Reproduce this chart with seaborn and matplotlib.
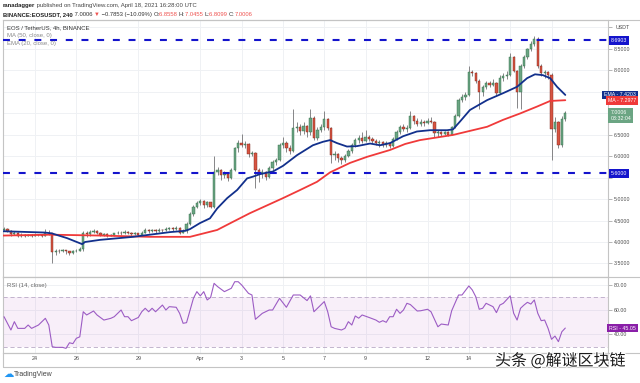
import matplotlib
matplotlib.use("Agg")
import matplotlib.pyplot as plt
import matplotlib.patheffects as pe
from matplotlib.lines import Line2D
import numpy as np
import pandas as pd
import seaborn as sns

# --- data: EOS/USDT 4h candles, index 0 = Mar 22 12:00 UTC ---
first_open = 4.28
closes = [4.30, 4.26, 4.18, 4.22, 4.14, 4.17, 4.15, 4.16, 4.14, 4.17,
          4.16, 4.15, 4.22, 4.20, 3.76, 3.80, 3.79, 3.81, 3.78, 3.74,
          3.78, 3.80, 3.84, 4.22, 4.18, 4.24, 4.25, 4.21, 4.17, 4.18,
          4.15, 4.16, 4.20, 4.22, 4.20, 4.24, 4.21, 4.18, 4.20, 4.17,
          4.22, 4.28, 4.26, 4.28, 4.25, 4.29, 4.27, 4.30, 4.32, 4.30,
          4.33, 4.22, 4.25, 4.42, 4.66, 4.82, 4.90, 4.95, 4.86, 4.92,
          4.82, 5.63, 5.68, 5.55, 5.58, 5.50, 5.68, 6.18, 6.30, 6.25,
          6.27, 6.05, 6.07, 5.68, 5.58, 5.62, 5.52, 5.72, 5.85, 5.90,
          6.25, 6.30, 6.18, 6.12, 6.66, 6.68, 6.58, 6.70, 6.55, 6.88,
          6.42, 6.60, 6.68, 6.85, 6.66, 6.02, 6.05, 5.95, 5.90, 6.00,
          6.12, 6.25, 6.38, 6.42, 6.35, 6.45, 6.40, 6.36, 6.30, 6.33,
          6.26, 6.30, 6.24, 6.40, 6.55, 6.68, 6.62, 6.65, 6.92, 6.82,
          6.75, 6.80, 6.76, 6.82, 6.80, 6.53, 6.55, 6.52, 6.55, 6.50,
          6.67, 6.93, 7.30, 7.38, 7.42, 7.95, 7.92, 7.75, 7.48, 7.60,
          7.70, 7.66, 7.70, 7.47, 7.82, 7.85, 7.88, 8.30, 7.98, 7.49,
          8.10, 8.30, 8.48, 8.60, 8.72, 8.10, 7.92, 7.95, 7.88, 6.62,
          6.78, 6.25, 6.8558, 7.0006]
highs = [4.34, 4.32, 4.28, 4.26, 4.24, 4.20, 4.19, 4.19, 4.18, 4.20,
         4.19, 4.18, 4.30, 4.28, 4.22, 3.84, 3.83, 3.84, 3.82, 3.80,
         3.81, 3.84, 3.88, 4.26, 4.25, 4.28, 4.30, 4.27, 4.23, 4.21,
         4.20, 4.19, 4.22, 4.25, 4.26, 4.28, 4.26, 4.23, 4.23, 4.22,
         4.25, 4.32, 4.30, 4.31, 4.30, 4.33, 4.31, 4.34, 4.36, 4.35,
         4.38, 4.34, 4.30, 4.47, 4.70, 4.87, 4.95, 5.00, 4.97, 4.96,
         4.94, 6.00, 5.75, 5.70, 5.65, 5.62, 5.72, 6.22, 6.38, 6.52,
         6.35, 6.30, 6.12, 6.10, 5.72, 5.70, 5.66, 5.76, 5.90, 5.95,
         6.30, 6.45, 6.34, 6.26, 7.10, 6.78, 6.75, 6.80, 6.72, 7.10,
         6.92, 6.68, 6.75, 7.05, 6.88, 6.68, 6.12, 6.08, 6.00, 6.05,
         6.16, 6.30, 6.42, 6.48, 6.55, 6.60, 6.50, 6.44, 6.40, 6.38,
         6.36, 6.35, 6.33, 6.45, 6.60, 6.72, 6.75, 6.72, 7.05, 6.95,
         6.88, 6.86, 6.84, 6.88, 6.90, 6.82, 6.60, 6.58, 6.58, 6.57,
         6.70, 6.98, 7.35, 7.45, 7.50, 8.10, 8.00, 7.95, 7.78, 7.65,
         7.75, 7.75, 7.78, 7.72, 7.88, 7.92, 7.98, 8.40, 8.32, 8.00,
         8.15, 8.35, 8.52, 8.68, 8.80, 8.76, 8.15, 8.00, 7.98, 7.92,
         6.90, 6.82, 6.92, 7.0455]
lows = [4.25, 4.24, 4.15, 4.16, 4.12, 4.12, 4.12, 4.13, 4.12, 4.13,
        4.13, 4.12, 4.14, 4.16, 3.52, 3.70, 3.74, 3.77, 3.72, 3.70,
        3.72, 3.76, 3.78, 3.80, 4.12, 4.15, 4.20, 4.18, 4.14, 4.14,
        4.12, 4.13, 4.14, 4.18, 4.17, 4.18, 4.18, 4.15, 4.16, 4.15,
        4.16, 4.21, 4.22, 4.24, 4.22, 4.24, 4.24, 4.25, 4.27, 4.26,
        4.28, 4.18, 4.20, 4.22, 4.40, 4.60, 4.78, 4.85, 4.80, 4.82,
        4.79, 4.80, 5.55, 5.45, 5.48, 5.42, 5.46, 5.66, 6.10, 6.20,
        6.18, 5.98, 6.00, 5.25, 5.40, 5.50, 5.45, 5.50, 5.68, 5.78,
        5.88, 6.18, 6.10, 6.05, 6.10, 6.55, 6.50, 6.52, 6.45, 6.50,
        6.38, 6.38, 6.55, 6.60, 6.60, 5.83, 5.90, 5.85, 5.82, 5.86,
        5.98, 6.08, 6.22, 6.30, 6.30, 6.33, 6.34, 6.30, 6.25, 6.22,
        6.20, 6.20, 6.18, 6.22, 6.38, 6.52, 6.58, 6.56, 6.62, 6.75,
        6.70, 6.70, 6.70, 6.74, 6.76, 6.45, 6.45, 6.46, 6.48, 6.46,
        6.48, 6.65, 6.90, 7.25, 7.30, 7.40, 7.85, 7.70, 7.10, 7.40,
        7.55, 7.60, 7.62, 7.40, 7.45, 7.75, 7.80, 7.85, 7.95, 7.12,
        7.10, 8.05, 8.25, 8.45, 8.55, 8.05, 7.85, 7.82, 7.80, 5.90,
        6.55, 6.18, 6.20, 6.8099]

# moving averages (candle index, price)
ma_idx = [-0.3, 13.4, 27.9, 42.4, 54.0, 61.9, 66.5, 71.4, 81.0, 86.0, 90.9,
          94.7, 100.5, 105.4, 112.1, 116.5, 120.8, 130.4, 140.3, 144.9, 149.9,
          154.8, 158.6, 163]
ma_val = [4.15, 4.17, 4.15, 4.12, 4.12, 4.28, 4.47, 4.67, 5.02, 5.21, 5.40,
          5.62, 5.84, 5.98, 6.14, 6.28, 6.37, 6.49, 6.68, 6.84, 6.99,
          7.15, 7.28, 7.2977]
ema_idx = [-0.3, 11.9, 13.9, 18.3, 22.7, 23.5, 27.9, 37.5, 48.2, 52.6, 54.0,
           56.9, 59.8, 61.9, 64.8, 67.7, 70.6, 72.3, 74.4, 78.1, 81.0, 85.1,
           89.7, 92.6, 94.7, 96.7, 99.6, 102.5, 106.3, 109.2, 112.1, 115.9,
           119.9, 123.7, 128.7, 130.4, 132.4, 135.3, 140.3, 144.9, 149.0,
           151.9, 154.2, 156.5, 158.6, 160.6, 163]
ema_val = [4.25, 4.22, 4.20, 4.09, 3.95, 4.00, 4.05, 4.12, 4.23, 4.26, 4.30,
           4.44, 4.55, 4.78, 5.02, 5.21, 5.48, 5.52, 5.58, 5.64, 5.77, 6.02,
           6.25, 6.33, 6.37, 6.30, 6.22, 6.23, 6.29, 6.25, 6.30, 6.46,
           6.57, 6.60, 6.60, 6.62, 6.80, 7.07, 7.30, 7.46, 7.61,
           7.81, 7.90, 7.88, 7.81, 7.61, 7.4203]

# RSI (14)
rsi_idx = [0, 2, 3, 4, 6, 7, 8, 10, 11, 12,
           13, 14, 15, 17, 18, 19, 20, 21, 22, 23,
           24, 26, 27, 29, 31, 32, 34, 35, 36, 37,
           39, 40, 41, 42, 43, 44, 46, 47, 48, 50,
           51, 52, 53, 55, 56, 57, 58, 59, 60, 61,
           62, 64, 66, 67, 68, 69, 71, 72, 73, 75,
           77, 78, 80, 82, 84, 86, 88, 89, 90, 93,
           94, 95, 96, 98, 99, 100, 101, 102, 103, 104,
           106, 108, 109, 110, 111, 112, 113, 114, 115, 116,
           117, 118, 120, 121, 123, 124, 126, 127, 129, 130,
           132, 133, 135, 136, 137, 138, 139, 140, 141, 142,
           143, 144, 145, 147, 148, 149, 150, 151, 152, 153,
           154, 155, 156, 157, 158, 159, 160, 161, 162, 163]
rsi_val = [54.2, 43.5, 50.2, 44.8, 44.8, 47.5, 44.8, 47.5, 50.2, 52.9,
           47.5, 30.0, 29.5, 29.5, 28.7, 33.2, 32.5, 36.8, 38.0, 58.2,
           55.6, 58.8, 55.6, 51.5, 52.9, 54.2, 59.6, 54.2, 54.2, 51.0,
           53.6, 58.2, 61.0, 58.2, 61.0, 58.2, 63.6, 59.6, 62.3, 61.8,
           56.9, 48.9, 49.4, 69.0, 74.4, 71.0, 74.4, 67.7, 69.8, 81.1,
           78.5, 74.4, 77.1, 82.4, 82.4, 79.8, 73.0, 71.7, 52.1, 56.9,
           59.6, 59.6, 69.0, 61.8, 71.7, 71.7, 67.2, 71.0, 58.2, 66.4,
           58.2, 46.1, 44.8, 43.5, 44.8, 50.2, 47.5, 54.8, 53.0, 55.6,
           53.6, 51.5, 49.7, 51.0, 49.7, 54.2, 54.2, 60.2, 56.9, 59.6,
           65.0, 64.0, 58.8, 59.0, 60.2, 58.2, 46.1, 48.3, 47.5, 59.0,
           71.7, 71.7, 79.0, 75.7, 70.3, 60.2, 61.0, 65.0, 63.6, 62.3,
           57.5, 63.6, 65.0, 71.0, 57.0, 51.5, 61.0, 63.6, 65.8, 64.4,
           67.7, 57.0, 51.0, 51.5, 44.8, 36.0, 38.6, 34.1, 42.1, 45.05]

day_idx = [9, 21, 39, 57, 69, 81, 93, 105, 123, 135, 147, 159]
day_labels = ['24', '26', '29', 'Apr', '3', '5', '7', '9', '12', '14', '16', '']
levels = [8.6903, 5.6000]

# --- style ---
sns.set_theme(style="white")
plt.rcParams['font.family'] = ['Liberation Sans', 'DejaVu Sans']
plt.rcParams['lines.scale_dashes'] = False

UP, DOWN = '#6ba583', '#d75442'
UP_EDGE, DOWN_EDGE = '#2f6b45', '#7a2418'
WICK = '#737375'
GRID = '#eff1f4'
FRAME = '#c4c4c4'
TXT = '#4a4a4a'

W, H = 640, 383
fig = plt.figure(figsize=(6.4, 3.83), dpi=100)
fig.patch.set_facecolor('white')


def fx(px):
    return px / W


def fy(py):
    return 1 - py / H


ax = fig.add_axes([fx(3), fy(277), fx(608) - fx(3), fy(20) - fy(277)])
ax_rsi = fig.add_axes([fx(3), fy(352.7), fx(608) - fx(3), fy(277) - fy(352.7)])

df = pd.DataFrame({'close': closes, 'high': highs, 'low': lows})
df['idx'] = np.arange(len(df))
df['open'] = [first_open] + closes[:-1]
up = df['close'] >= df['open']

# --- candles ---
ax.vlines(df['idx'], df['low'], df['high'], color=WICK, lw=0.6, zorder=2)
ax.bar(df['idx'], np.maximum((df['close'] - df['open']).abs(), 0.012),
       bottom=np.minimum(df['open'], df['close']), width=0.66,
       color=np.where(up, UP, DOWN), edgecolor=np.where(up, UP_EDGE, DOWN_EDGE),
       linewidth=0.3, zorder=3)

sns.lineplot(x=ma_idx, y=ma_val, ax=ax, color='#f03a3a', lw=1.3, zorder=4,
             estimator=None, sort=False)
sns.lineplot(x=ema_idx, y=ema_val, ax=ax, color='#12308c', lw=1.3, zorder=5,
             estimator=None, sort=False)

for lv in levels:
    ax.axhline(lv, color='#1414cc', lw=1.5, ls=(0, (5, 6.3)), zorder=6)

ax.set_xlim(-0.3, 175.4)
ax.set_ylim(3.186, 9.163)
price_ticks = np.arange(3.5, 9.01, 0.5)
ax.set_yticks(price_ticks)
hidden = {5.5, 7.0, 7.5, 9.0}
ax.set_yticklabels(['' if round(t, 1) in hidden else f'{t:.4f}' for t in price_ticks])
ax.set_xticks(day_idx)
ax.tick_params(axis='x', length=0, labelbottom=False)
ax.yaxis.tick_right()
ax.tick_params(axis='y', right=True, length=3, width=0.5, color='#9a9a9a',
               labelsize=3.8, labelcolor=TXT, pad=1.5)
ax.grid(True, color=GRID, lw=0.7)
ax.set_axisbelow(True)
ax.set_xlabel('')
ax.set_ylabel('')

# --- RSI pane ---
ax_rsi.axhspan(30, 70, color='#9c27b0', alpha=0.07, lw=0, zorder=1)
for lv in (70, 30):
    ax_rsi.axhline(lv, color='#b9a9c6', lw=0.6, ls=(0, (3, 2)), zorder=2)
sns.lineplot(x=rsi_idx, y=rsi_val, ax=ax_rsi, color='#9c5cc4', lw=0.8, zorder=3,
             estimator=None, sort=False)
ax_rsi.set_xlim(-0.3, 175.4)
ax_rsi.set_ylim(25.2, 86.2)
ax_rsi.set_yticks([40, 60, 80])
ax_rsi.set_yticklabels(['40.00', '60.00', '80.00'])
ax_rsi.set_xticks(day_idx)
ax_rsi.set_xticklabels(day_labels)
ax_rsi.yaxis.tick_right()
ax_rsi.tick_params(axis='y', right=True, length=3, width=0.5, color='#9a9a9a',
                   labelsize=3.8, labelcolor=TXT, pad=1.5)
ax_rsi.tick_params(axis='x', length=0, labelsize=3.9, labelcolor=TXT, pad=2.6)
ax_rsi.grid(True, color=GRID, lw=0.7)
ax_rsi.set_axisbelow(True)
ax_rsi.set_xlabel('')
ax_rsi.set_ylabel('')

for a in (ax, ax_rsi):
    for s in a.spines.values():
        s.set_color(FRAME)
        s.set_linewidth(0.8)

# frame lines that run past the plot area
for y0, x1 in ((20, 640), (277, 640), (352.7, 640), (367, 608)):
    fig.add_artist(Line2D([fx(3), fx(x1)], [fy(y0), fy(y0)], color=FRAME, lw=0.8))
fig.add_artist(Line2D([fx(608), fx(608)], [fy(352.7), fy(367)], color=FRAME, lw=0.8))
fig.add_artist(Line2D([fx(3), fx(3)], [fy(352.7), fy(367)], color=FRAME, lw=0.8))

# --- price-axis tags ---
ytr = ax.get_yaxis_transform()


def tag(a, y, text, fc, x=1.004, ha='left', size=3.8):
    a.text(x, y, text, transform=a.get_yaxis_transform(), ha=ha, va='center',
           fontsize=size, color='white', zorder=20, clip_on=False,
           bbox=dict(boxstyle='square,pad=0.35', fc=fc, ec='none'))


tag(ax, 8.6903, '8.6903', '#1414cc')
tag(ax, 5.6000, '5.6000', '#1414cc')
tag(ax, 7.4203, 'EMA - 7.4203', '#12308c', x=1.046, ha='right')
tag(ax, 7.2977, 'MA - 7.2977', '#f03a3a', x=1.046, ha='right')
ax.text(1.004, 6.94, '7.0006\n03:32:04', transform=ytr, ha='left', va='center',
        fontsize=3.8, color='white', linespacing=1.25, zorder=20, clip_on=False,
        bbox=dict(boxstyle='square,pad=0.4', fc=UP, ec='none'))
ax.text(1.012, 9.0, 'USDT', transform=ytr, ha='left', va='center', fontsize=3.8,
        color=TXT, zorder=20, clip_on=False)
tag(ax_rsi, 45.05, 'RSI - 45.05', '#8a1fa8', x=1.046, ha='right')

# --- pane legends ---
fig.text(fx(7), fy(27.3), 'EOS / TetherUS, 4h, BINANCE', fontsize=4.3, color='#333333', va='center')
fig.text(fx(7), fy(35), 'MA (50, close, 0)', fontsize=4.3, color='#8a8a8a', va='center')
fig.text(fx(7), fy(43), 'EMA (20, close, 0)', fontsize=4.3, color='#8a8a8a', va='center')
fig.text(fx(7), fy(285), 'RSI (14, close)', fontsize=4.3, color='#666666', va='center')


# --- header lines ---
def chain(x, y, parts, size):
    prev = fig.text(x, y, parts[0][0], color=parts[0][1], fontweight=parts[0][2],
                    fontsize=size, va='center', ha='left')
    for txt, col, wt in parts[1:]:
        prev = ax.annotate(txt, xy=(1, 0.5), xycoords=prev, va='center', ha='left',
                           color=col, fontweight=wt, fontsize=size, annotation_clip=False)


RED = '#ef5350'
chain(fx(3), fy(5), [('ranadagger', '#222222', 'bold'),
                     (' published on TradingView.com, April 18, 2021 16:28:00 UTC', '#444444', 'normal')], 4.3)
chain(fx(3), fy(14.5), [('BINANCE:EOSUSDT, 240', '#222222', 'bold'),
                        (' 7.0006 ', '#333333', 'normal'), ('▼', RED, 'normal'),
                        (' −0.7853 (−10.09%) ', '#333333', 'normal'),
                        ('O:', '#333333', 'normal'), ('6.8558 ', RED, 'normal'),
                        ('H:', '#333333', 'normal'), ('7.0455 ', RED, 'normal'),
                        ('L:', '#333333', 'normal'), ('6.8099 ', RED, 'normal'),
                        ('C:', '#333333', 'normal'), ('7.0006', RED, 'normal')], 4.2)

# --- footer ---
fig.text(fx(3), fy(374), '☁', fontsize=7.5, color='#2196f3', va='center',
         family=['DejaVu Sans'])
fig.text(fx(14), fy(374), 'TradingView', fontsize=5, color='#444444', va='center')
fig.text(fx(495), fy(361), '头条 @解谜区块链', fontsize=11.5, color='#1a1a1a', va='center',
         family=['Noto Sans CJK SC', 'DejaVu Sans'], zorder=30,
         path_effects=[pe.withStroke(linewidth=1.5, foreground='white')])

fig.savefig('out.png', dpi=100, facecolor='white')
